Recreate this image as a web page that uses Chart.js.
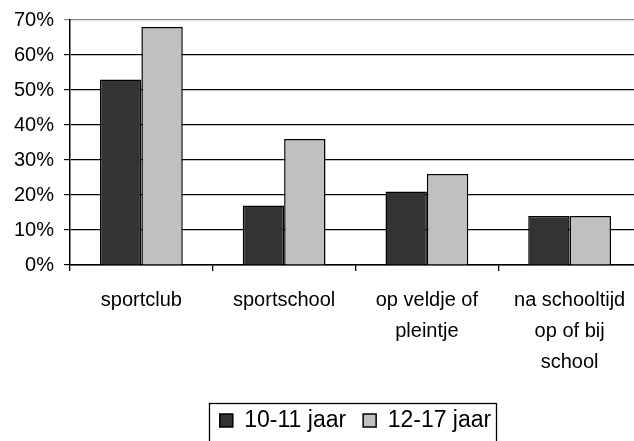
<!DOCTYPE html>
<html>
<head>
<meta charset="utf-8">
<script src="https://cdn.jsdelivr.net/npm/chart.js@4"></script>
<style>
html,body{margin:0;padding:0;width:634px;height:441px;overflow:hidden;background:#fff;}
#wrap{position:absolute;left:0;top:0;width:642px;height:442px;}
</style>
</head>
<body>
<div id="wrap"><canvas id="c" width="642" height="442"></canvas></div>
<script>
const categories = [['sportclub'], ['sportschool'], ['op veldje of', 'pleintje'], ['na schooltijd', 'op of bij', 'school']];
const seriesNames = ['10-11 jaar', '12-17 jaar'];
const values1011 = [53, 17, 21, 14];
const values1217 = [68, 36, 26, 14];
const yTicks = [0, 10, 20, 30, 40, 50, 60, 70];

const FONT = '"Liberation Sans", Arial, sans-serif';

const legendBorder = {
  id: 'legendBorder',
  afterDraw(chart) {
    const hb = chart.legend && chart.legend.legendHitBoxes;
    if (!hb || !hb.length) return;
    const last = hb[hb.length - 1];
    const cy = hb[0].top + hb[0].height / 2;
    const ctx = chart.ctx;
    ctx.save();
    ctx.strokeStyle = '#000';
    ctx.lineWidth = 1.3;
    ctx.strokeRect(Math.round(hb[0].left - 11) + 0.5, Math.round(cy - 18) + 0.5,
                   Math.round(last.left + last.width + 5 - (hb[0].left - 11)), 50);
    ctx.restore();
  }
};

new Chart(document.getElementById('c'), {
  type: 'bar',
  data: {
    labels: categories,
    datasets: [
      { label: seriesNames[0], data: values1011, backgroundColor: '#333333', borderColor: '#000', borderWidth: 1.5,
        categoryPercentage: 0.58, barPercentage: 1.0 },
      { label: seriesNames[1], data: values1217, backgroundColor: '#c0c0c0', borderColor: '#000', borderWidth: 1.5,
        categoryPercentage: 0.58, barPercentage: 1.0 }
    ]
  },
  options: {
    responsive: false,
    animation: false,
    devicePixelRatio: 1,
    layout: { padding: { top: 4, right: 1, left: 0, bottom: 0 } },
    plugins: {
      tooltip: { enabled: false },
      legend: {
        position: 'bottom',
        fullSize: false,
        labels: {
          color: '#000',
          font: { family: FONT, size: 23 },
          boxWidth: 13,
          boxHeight: 13,
          padding: 17
        }
      }
    },
    scales: {
      x: {
        grid: { display: true, drawOnChartArea: false, drawTicks: true, tickLength: 6, color: '#000', lineWidth: 1.3, offset: true },
        border: { display: true, color: '#000', width: 1.5 },
        ticks: { color: '#000', font: { family: FONT, size: 20, lineHeight: 1.55 }, maxRotation: 0, autoSkip: false, padding: 14 },
        afterFit(s) { s.height = 127; }
      },
      y: {
        min: 0, max: 70,
        afterBuildTicks(s) { s.ticks = yTicks.map(v => ({ value: v })); },
        grid: { color: ctx => (ctx.tick && ctx.tick.value === 70) ? '#8a8a8a' : '#000', lineWidth: 1.2, tickLength: 6, drawTicks: true },
        border: { display: true, color: '#000', width: 1.5 },
        ticks: { color: '#000', font: { family: FONT, size: 20, lineHeight: 1.0 }, padding: 10, callback: v => v + '%' },
        afterFit(s) { s.width = 70; }
      }
    }
  },
  plugins: [legendBorder]
});
</script>
</body>
</html>
